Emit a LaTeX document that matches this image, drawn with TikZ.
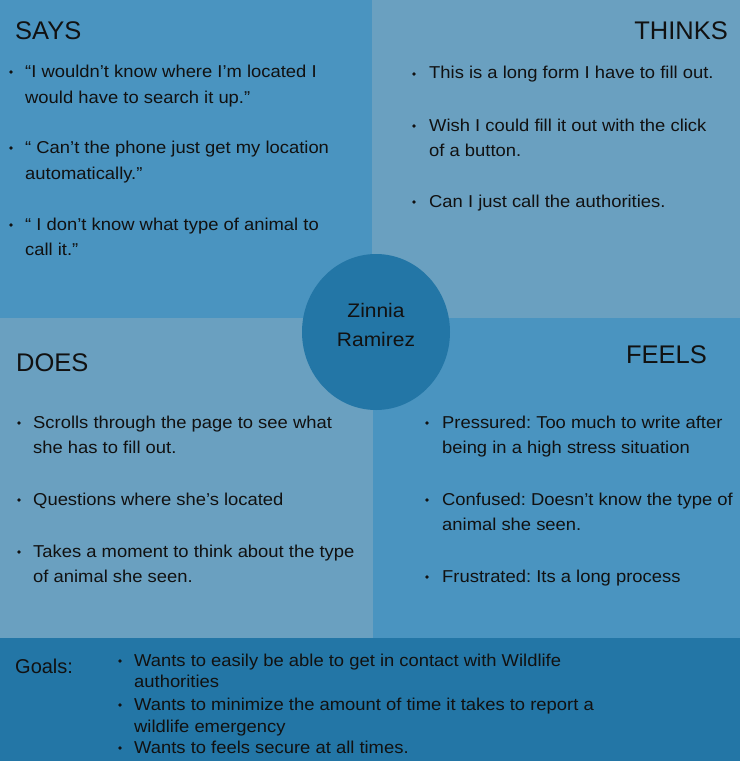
\documentclass[tikz,border=0pt]{standalone}
\usepackage{fontspec}
\setmainfont{Liberation Sans}
\newfontfamily\widesans[FakeStretch=1.07]{Liberation Sans}
\usetikzlibrary{shapes.geometric}

\definecolor{saysblue}{HTML}{4A94C0}
\definecolor{thinkblue}{HTML}{6AA0C0}
\definecolor{deepblue}{HTML}{2376A6}
\definecolor{inkcol}{HTML}{111111}

\tikzset{
  head/.style={inner sep=0pt, text=inkcol, font=\fontsize{25.5}{30}\selectfont},
  body/.style={anchor=base west, inner sep=0pt, text=inkcol, font=\widesans\fontsize{17.2}{20}\selectfont},
  goal/.style={anchor=base west, inner sep=0pt, text=inkcol, font=\widesans\fontsize{17.2}{20}\selectfont},
  goalhead/.style={anchor=base west, inner sep=0pt, text=inkcol, font=\fontsize{20}{24}\selectfont},
  who/.style={anchor=base, inner sep=0pt, text=inkcol, font=\widesans\fontsize{19.6}{24}\selectfont},
  dot/.style={fill=inkcol},
}

\begin{document}
\frenchspacing
\begin{tikzpicture}[x=1pt,y=-1pt]
\useasboundingbox (0,0) rectangle (740,761);

% quadrants and goals band
\fill[saysblue]  (0,0)     rectangle (372,318);
\fill[thinkblue] (372,0)   rectangle (740,318);
\fill[thinkblue] (0,318)   rectangle (373,638);
\fill[saysblue]  (373,318) rectangle (740,638);
\fill[deepblue]  (0,638)   rectangle (740,761);

% persona in the middle
\node[ellipse, fill=deepblue, minimum width=148pt, minimum height=156pt, inner sep=0pt] (persona) at (376,332) {};
\node[who] (first) at (376,317) {Zinnia};
\node[who] (last)  at (376,346) {Ramirez};

% headings
\node[head, anchor=base west] (says)   at (15,39)  {SAYS};
\node[head, anchor=base east] (thinks) at (728,39) {THINKS};
\node[head, anchor=base west] (does)   at (16,371) {DOES};
\node[head, anchor=base east] (feels)  at (707,363) {FEELS};

% SAYS
\foreach \y in {72,148,225} \fill[dot] (11,\y) circle (1.8pt);
\node[body] (s1a) at (25,77)  {“I wouldn’t know where I’m located I};
\node[body] (s1b) at (25,103) {would have to search it up.”};
\node[body] (s2a) at (25,153) {“ Can’t the phone just get my location};
\node[body] (s2b) at (25,179) {automatically.”};
\node[body] (s3a) at (25,230) {“ I don’t know what type of animal to};
\node[body] (s3b) at (25,255) {call it.”};

% THINKS
\foreach \y in {74,126,202} \fill[dot] (414,\y) circle (1.8pt);
\node[body] (t1)  at (429,78)  {This is a long form I have to fill out.};
\node[body] (t2a) at (429,131) {Wish I could fill it out with the click};
\node[body] (t2b) at (429,156) {of a button.};
\node[body] (t3)  at (429,207) {Can I just call the authorities.};

% DOES
\foreach \y in {423,500,552} \fill[dot] (19,\y) circle (1.8pt);
\node[body] (d1a) at (33,428) {Scrolls through the page to see what};
\node[body] (d1b) at (33,453) {she has to fill out.};
\node[body] (d2)  at (33,505) {Questions where she’s located};
\node[body] (d3a) at (33,557) {Takes a moment to think about the type};
\node[body] (d3b) at (33,582) {of animal she seen.};

% FEELS
\foreach \y in {423,500,577} \fill[dot] (427,\y) circle (1.8pt);
\node[body] (f1a) at (442,428) {Pressured: Too much to write after};
\node[body] (f1b) at (442,453) {being in a high stress situation};
\node[body] (f2a) at (442,505) {Confused: Doesn’t know the type of};
\node[body] (f2b) at (442,530) {animal she seen.};
\node[body] (f3)  at (442,582) {Frustrated: Its a long process};

% GOALS
\node[goalhead] (goals) at (15,673) {Goals:};
\foreach \y in {661,705,748} \fill[dot] (120,\y) circle (1.8pt);
\node[goal] (g1a) at (134,666) {Wants to easily be able to get in contact with Wildlife};
\node[goal] (g1b) at (134,687) {authorities};
\node[goal] (g2a) at (134,710) {Wants to minimize the amount of time it takes to report a};
\node[goal] (g2b) at (134,732) {wildlife emergency};
\node[goal] (g3)  at (134,753) {Wants to feels secure at all times.};
\end{tikzpicture}
\end{document}
